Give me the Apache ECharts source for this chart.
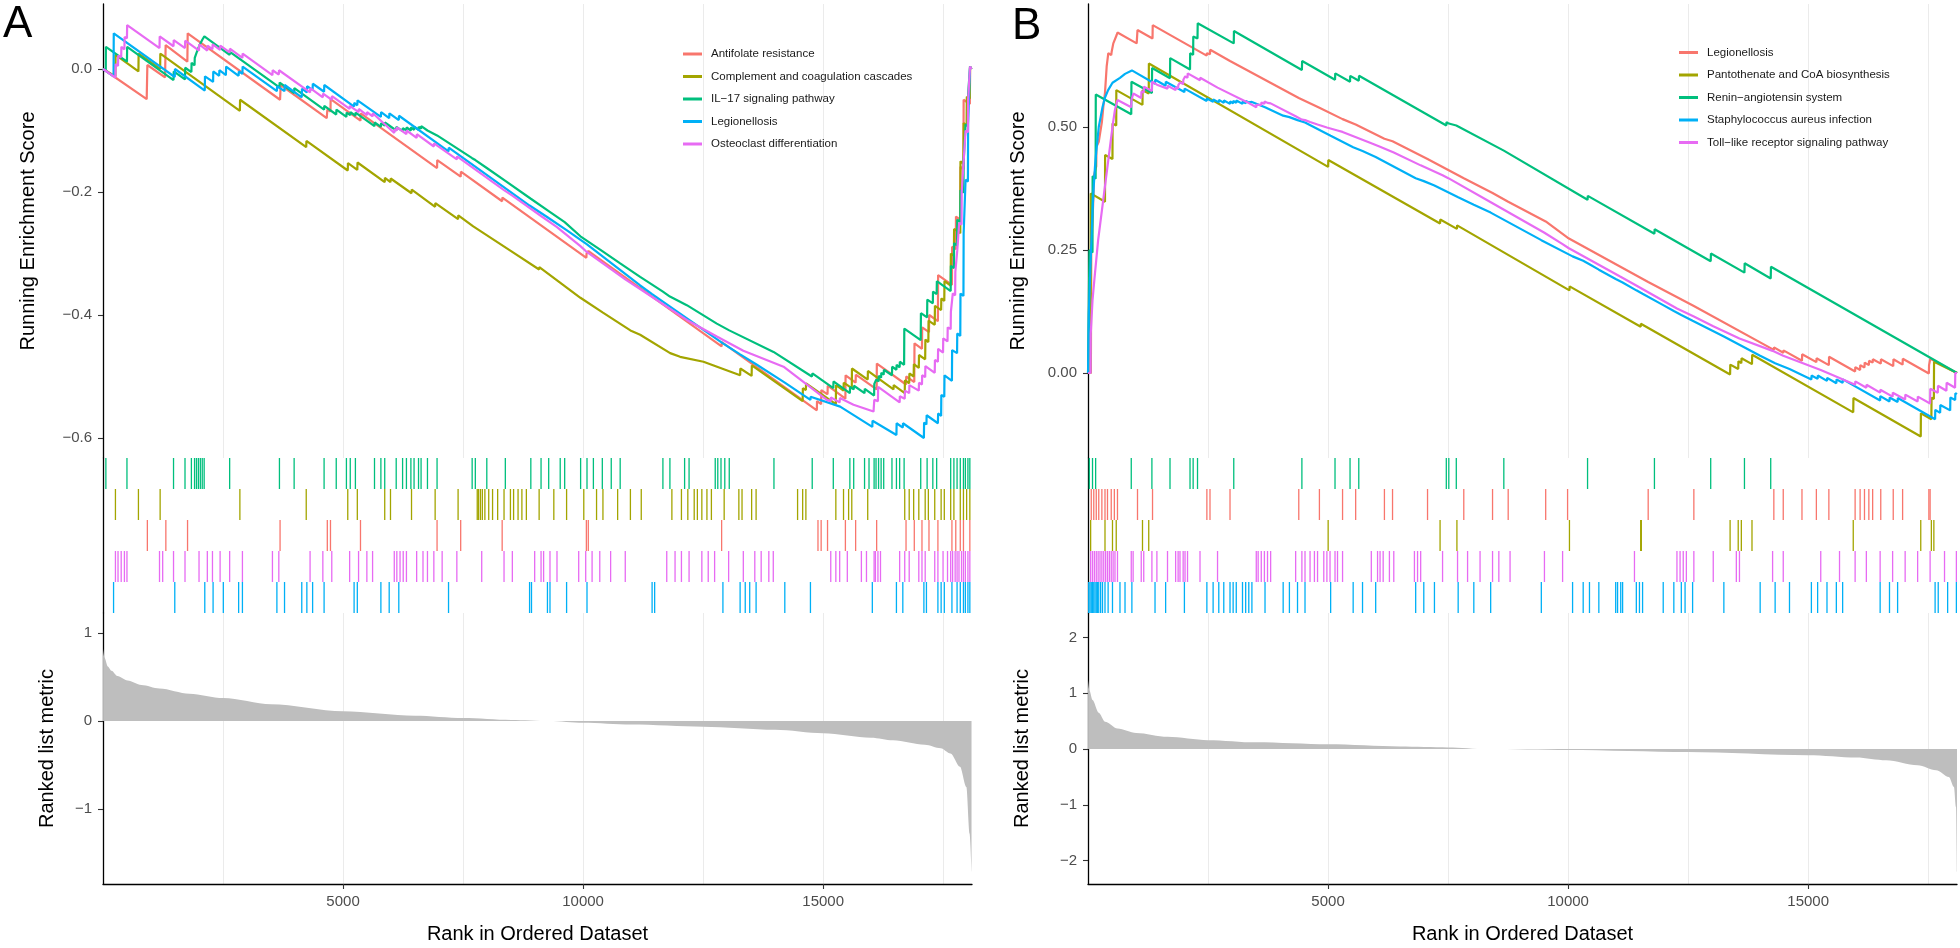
<!DOCTYPE html>
<html><head><meta charset="utf-8">
<script src="https://cdn.jsdelivr.net/npm/echarts@6/dist/echarts.min.js"></script>
<style>html,body{margin:0;padding:0;background:#fff}#c{width:1960px;height:948px}</style>
</head><body><div id="c"></div>
<script>
// ---------------- DATA ----------------
const N = 18100;
const colors = ['#F8766D', '#A3A500', '#00BF7D', '#00B0F6', '#E76BF3'];
const namesA = ['Antifolate resistance', 'Complement and coagulation cascades', 'IL\u221217 signaling pathway', 'Legionellosis', 'Osteoclast differentiation'];
const namesB = ['Legionellosis', 'Pantothenate and CoA biosynthesis', 'Renin\u2212angiotensin system', 'Staphylococcus aureus infection', 'Toll\u2212like receptor signaling pathway'];
const xTickLabels = [5000, 10000, 15000];
const xGridBreaks = [2500, 5000, 7500, 10000, 12500, 15000, 17500];
const yTicksEsA = [-0.6, -0.4, -0.2, 0];
const yTicksEsB = [0, 0.25, 0.5];
const yTicksMetricA = [-1, 0, 1];
const yTicksMetricB = [-2, -1, 0, 1, 2];
// rug row order (index into gene sets), top to bottom
const rugOrderA = [2, 1, 0, 4, 3];
const rugOrderB = [2, 0, 1, 4, 3];

// Panel A running enrichment scores [rank, ES]
const esA_Antifolate = [[1,0],[910,-0.049],[924,0.0065],[1292,-0.0136],[1305,0.039],[1757,0.012],[1764,0.058],[3688,-0.050],[3701,-0.026],[4660,-0.080],[4673,-0.066],[4738,-0.069],[4742,-0.049],[5363,-0.084],[5367,-0.072],[6958,-0.161],[6962,-0.148],[7450,-0.175],[7454,-0.167],[8314,-0.215],[8318,-0.209],[10068,-0.307],[10072,-0.300],[10108,-0.302],[10112,-0.296],[12885,-0.451],[12889,-0.444],[14868,-0.555],[14872,-0.540],[14958,-0.545],[14962,-0.522],[15091,-0.529],[15095,-0.515],[15463,-0.536],[15467,-0.498],[15676,-0.510],[15680,-0.497],[16114,-0.521],[16118,-0.479],[16726,-0.513],[16730,-0.500],[16898,-0.509],[16902,-0.446],[17058,-0.455],[17062,-0.420],[17204,-0.428],[17208,-0.400],[17390,-0.410],[17394,-0.335],[17682,-0.351],[17686,-0.289],[17762,-0.293],[17766,-0.240],[17856,-0.245],[17860,-0.159],[17922,-0.163],[17926,-0.050],[18055,-0.057],[18060,0.004],[18090,0]];
const esA_Complement = [[1,0],[259,-0.012],[262,0.023],[738,-0.004],[742,0.025],[1190,0.0],[1194,0.025],[2851,-0.068],[2855,-0.050],[4233,-0.127],[4237,-0.117],[5098,-0.165],[5102,-0.153],[5297,-0.164],[5301,-0.152],[5868,-0.184],[5872,-0.177],[5988,-0.184],[5992,-0.178],[6426,-0.202],[6430,-0.196],[6918,-0.224],[6922,-0.218],[7396,-0.244],[7400,-0.238],[7712,-0.256],[8500,-0.296],[9084,-0.326],[9088,-0.322],[9944,-0.372],[10413,-0.396],[10985,-0.425],[11188,-0.432],[11813,-0.462],[12020,-0.468],[12507,-0.476],[13271,-0.498],[13275,-0.487],[13510,-0.499],[13514,-0.482],[14573,-0.540],[14577,-0.519],[14640,-0.522],[14644,-0.511],[15264,-0.545],[15268,-0.514],[15424,-0.523],[15428,-0.510],[15596,-0.519],[15600,-0.487],[15928,-0.505],[15932,-0.491],[16465,-0.521],[16469,-0.514],[16699,-0.527],[16703,-0.506],[16792,-0.511],[16796,-0.495],[16885,-0.500],[16889,-0.480],[16992,-0.486],[16996,-0.465],[17125,-0.472],[17129,-0.440],[17191,-0.444],[17195,-0.409],[17324,-0.416],[17328,-0.385],[17457,-0.392],[17461,-0.373],[17523,-0.377],[17527,-0.345],[17656,-0.352],[17660,-0.300],[17723,-0.304],[17727,-0.260],[17856,-0.267],[17860,-0.150],[17922,-0.154],[17926,-0.088],[17988,-0.092],[17992,-0.045],[18055,-0.048],[18059,0.004],[18090,0]];
const esA_IL17 = [[1,0],[58,-0.003],[60,0.036],[499,0.012],[503,0.036],[1469,-0.018],[1473,-0.004],[1708,-0.017],[1712,0.002],[1841,-0.005],[1845,0.010],[1907,0.006],[1911,0.018],[1947,0.016],[1951,0.027],[1987,0.025],[1991,0.035],[2027,0.033],[2031,0.042],[2067,0.040],[2071,0.048],[2107,0.046],[2111,0.053],[2638,0.023],[2642,0.028],[3675,-0.030],[3679,-0.022],[3981,-0.039],[3985,-0.031],[4605,-0.066],[4609,-0.060],[4858,-0.074],[4862,-0.066],[5070,-0.078],[5074,-0.071],[5150,-0.075],[5154,-0.070],[5257,-0.076],[5261,-0.071],[5655,-0.093],[5659,-0.087],[5788,-0.094],[5792,-0.088],[5868,-0.092],[5872,-0.087],[6107,-0.100],[6111,-0.094],[6240,-0.101],[6244,-0.096],[6320,-0.100],[6324,-0.095],[6413,-0.100],[6417,-0.095],[6479,-0.099],[6483,-0.094],[6572,-0.099],[6576,-0.094],[6625,-0.097],[6629,-0.093],[6758,-0.100],[6762,-0.097],[6958,-0.108],[6962,-0.105],[7689,-0.145],[7755,-0.148],[7994,-0.161],[8380,-0.182],[8911,-0.211],[9283,-0.231],[9616,-0.249],[9944,-0.272],[10400,-0.296],[10772,-0.316],[11188,-0.338],[11662,-0.362],[11808,-0.370],[12160,-0.384],[12785,-0.414],[13044,-0.425],[13966,-0.460],[14764,-0.500],[14772,-0.500],[14776,-0.495],[15211,-0.519],[15215,-0.508],[15556,-0.527],[15560,-0.517],[15636,-0.521],[15640,-0.515],[15862,-0.527],[15866,-0.520],[16061,-0.531],[16065,-0.512],[16101,-0.514],[16105,-0.505],[16154,-0.508],[16158,-0.499],[16207,-0.502],[16211,-0.494],[16261,-0.497],[16265,-0.489],[16433,-0.498],[16437,-0.484],[16526,-0.489],[16530,-0.481],[16593,-0.485],[16597,-0.476],[16686,-0.481],[16690,-0.422],[17032,-0.441],[17036,-0.397],[17165,-0.404],[17169,-0.375],[17284,-0.381],[17288,-0.362],[17364,-0.366],[17368,-0.345],[17656,-0.361],[17660,-0.320],[17723,-0.324],[17727,-0.283],[17789,-0.287],[17793,-0.245],[17856,-0.249],[17860,-0.197],[17922,-0.201],[17926,-0.150],[17962,-0.152],[17966,-0.090],[18015,-0.093],[18019,-0.040],[18055,-0.042],[18059,0.002],[18090,0]];
const esA_Legionellosis = [[1,0],[220,-0.012],[224,0.058],[1495,-0.013],[1499,0.000],[2120,-0.035],[2124,-0.012],[2293,-0.021],[2297,-0.004],[2420,-0.011],[2424,-0.002],[2560,-0.010],[2564,0.004],[2825,-0.011],[2829,-0.004],[2904,-0.008],[2908,0.004],[3622,-0.036],[3626,-0.028],[3781,-0.036],[3785,-0.026],[4140,-0.046],[4144,-0.032],[4246,-0.038],[4250,-0.028],[4366,-0.034],[4370,-0.024],[4605,-0.037],[4609,-0.026],[5230,-0.061],[5234,-0.055],[5297,-0.059],[5301,-0.051],[5788,-0.078],[5792,-0.070],[5961,-0.080],[5965,-0.072],[6161,-0.083],[6165,-0.076],[7197,-0.134],[7201,-0.128],[8885,-0.222],[8925,-0.223],[9257,-0.241],[9656,-0.262],[10081,-0.285],[11188,-0.352],[11437,-0.366],[12912,-0.446],[13270,-0.464],[13603,-0.480],[14201,-0.510],[14735,-0.538],[14739,-0.533],[15354,-0.549],[16024,-0.582],[16028,-0.572],[16526,-0.595],[16530,-0.576],[16659,-0.583],[16663,-0.576],[17098,-0.600],[17102,-0.575],[17151,-0.578],[17155,-0.563],[17390,-0.576],[17394,-0.560],[17457,-0.564],[17461,-0.530],[17523,-0.533],[17527,-0.498],[17682,-0.507],[17686,-0.457],[17789,-0.462],[17793,-0.430],[17856,-0.434],[17860,-0.365],[17922,-0.369],[17926,-0.267],[17962,-0.269],[17966,-0.180],[18015,-0.183],[18019,-0.090],[18055,-0.092],[18059,0.004],[18090,0]];
const esA_Osteoclast = [[1,0],[259,-0.014],[263,0.008],[313,0.005],[317,0.022],[379,0.019],[383,0.036],[446,0.032],[450,0.052],[499,0.050],[503,0.0715],[1177,0.034],[1181,0.053],[1469,0.037],[1473,0.047],[1708,0.034],[1712,0.046],[2000,0.030],[2004,0.040],[2173,0.030],[2177,0.038],[2280,0.032],[2284,0.040],[2439,0.031],[2443,0.038],[2638,0.027],[2642,0.033],[2904,0.018],[2908,0.025],[3529,-0.010],[3533,-0.002],[3662,-0.009],[3666,-0.002],[4313,-0.038],[4317,-0.031],[4579,-0.046],[4583,-0.040],[4765,-0.050],[4769,-0.044],[5137,-0.065],[5141,-0.060],[5323,-0.070],[5327,-0.065],[5496,-0.075],[5500,-0.070],[5615,-0.077],[5619,-0.072],[6067,-0.104],[6071,-0.098],[6120,-0.100],[6124,-0.095],[6320,-0.106],[6324,-0.100],[6533,-0.112],[6537,-0.106],[6891,-0.126],[6895,-0.121],[7370,-0.147],[7374,-0.142],[8353,-0.197],[8526,-0.206],[9124,-0.239],[9456,-0.257],[9944,-0.288],[10054,-0.296],[10573,-0.325],[10878,-0.342],[11188,-0.358],[12160,-0.408],[12785,-0.435],[13337,-0.458],[14174,-0.484],[15077,-0.538],[15158,-0.540],[15162,-0.534],[15344,-0.542],[15348,-0.535],[15632,-0.546],[16049,-0.557],[16061,-0.557],[16065,-0.538],[16141,-0.540],[16145,-0.517],[16593,-0.542],[16597,-0.532],[16699,-0.536],[16703,-0.523],[16792,-0.527],[16796,-0.514],[16992,-0.523],[16996,-0.510],[17058,-0.513],[17062,-0.498],[17125,-0.501],[17129,-0.483],[17324,-0.494],[17328,-0.473],[17390,-0.476],[17394,-0.455],[17497,-0.461],[17501,-0.438],[17590,-0.443],[17594,-0.420],[17656,-0.423],[17660,-0.395],[17696,-0.397],[17700,-0.365],[17749,-0.368],[17753,-0.330],[17789,-0.332],[17793,-0.295],[17829,-0.297],[17833,-0.250],[17882,-0.253],[17886,-0.200],[17922,-0.202],[17926,-0.150],[17962,-0.152],[17966,-0.100],[18015,-0.103],[18019,-0.050],[18055,-0.052],[18059,0.004],[18090,0]];

// Panel B running enrichment scores [rank, ES]
const esB_Legionellosis = [[1,0],[60,0.0],[68,0.25],[111,0.352],[115,0.36],[120,0.40],[172,0.42],[176,0.46],[224,0.47],[250,0.474],[289,0.51],[319,0.541],[354,0.57],[389,0.623],[423,0.650],[484,0.646],[493,0.653],[527,0.670],[597,0.687],[614,0.692],[1014,0.670],[1031,0.697],[1344,0.680],[1348,0.707],[2472,0.645],[2476,0.650],[2541,0.648],[2545,0.657],[2958,0.634],[2962,0.638],[4390,0.559],[4394,0.563],[4820,0.539],[4824,0.543],[5302,0.516],[5306,0.520],[5575,0.505],[5579,0.509],[6174,0.476],[6178,0.480],[6343,0.471],[6347,0.475],[7072,0.435],[7076,0.438],[7827,0.396],[7831,0.399],[8426,0.366],[8752,0.348],[8756,0.351],[9533,0.308],[9989,0.275],[9993,0.278],[11668,0.185],[11672,0.188],[12619,0.136],[12623,0.139],[14285,0.047],[14289,0.052],[14481,0.041],[14485,0.046],[14871,0.025],[14875,0.038],[15171,0.022],[15175,0.030],[15431,0.016],[15435,0.033],[15978,0.003],[15982,0.012],[16082,0.006],[16086,0.016],[16173,0.011],[16177,0.021],[16264,0.016],[16268,0.025],[16343,0.021],[16347,0.028],[16512,0.019],[16516,0.028],[16772,0.014],[16776,0.028],[16967,0.017],[16971,0.029],[17514,-0.001],[17518,0.016],[17540,0.015],[17544,0.029],[18100,0]];
const esB_Pantothenate = [[1,0],[55,0.0],[57,0.365],[354,0.348],[356,0.443],[510,0.435],[512,0.507],[588,0.503],[590,0.575],[1135,0.545],[1137,0.575],[1265,0.568],[1268,0.629],[5002,0.419],[5006,0.433],[7333,0.304],[7337,0.312],[7684,0.293],[7688,0.300],[10028,0.168],[10032,0.176],[11512,0.094],[11515,0.100],[11525,0.099],[11528,0.104],[13374,-0.003],[13378,0.017],[13543,0.008],[13547,0.024],[13608,0.020],[13612,0.030],[13830,0.018],[13834,0.037],[15939,-0.080],[15943,-0.051],[17345,-0.129],[17348,-0.082],[17566,-0.094],[17570,-0.050],[17618,-0.053],[17622,0.023],[18100,0]];
const esB_Renin = [[1,0],[28,0.0],[30,0.25],[94,0.245],[96,0.40],[159,0.395],[162,0.566],[901,0.526],[905,0.592],[1331,0.569],[1335,0.620],[1708,0.599],[1712,0.640],[2125,0.617],[2128,0.650],[2190,0.647],[2193,0.684],[2281,0.680],[2285,0.711],[3036,0.670],[3040,0.695],[4455,0.616],[4460,0.634],[5145,0.596],[5150,0.609],[5458,0.592],[5462,0.604],[5640,0.594],[5645,0.604],[7463,0.503],[7467,0.510],[7515,0.507],[7520,0.511],[7671,0.503],[7675,0.507],[8661,0.452],[8665,0.455],[10405,0.352],[10410,0.360],[11798,0.283],[11802,0.292],[12970,0.227],[12975,0.243],[13673,0.204],[13677,0.223],[14220,0.192],[14225,0.216],[18100,0]];
const esB_Staph = [[1,0],[15,0.0],[17,0.12],[42,0.19],[68,0.26],[94,0.33],[120,0.38],[146,0.42],[172,0.45],[198,0.475],[224,0.50],[263,0.52],[302,0.54],[354,0.56],[419,0.575],[510,0.59],[666,0.60],[771,0.608],[914,0.615],[1396,0.588],[1400,0.596],[1617,0.584],[1620,0.592],[2008,0.571],[2012,0.578],[2472,0.553],[2476,0.558],[2606,0.551],[2610,0.556],[2724,0.550],[2728,0.555],[2828,0.549],[2832,0.554],[2958,0.547],[2962,0.552],[3023,0.548],[3027,0.553],[3088,0.549],[3092,0.554],[3218,0.547],[3222,0.552],[3284,0.548],[3288,0.553],[3349,0.550],[3353,0.554],[3414,0.551],[3418,0.555],[3687,0.540],[3691,0.544],[4065,0.523],[4069,0.527],[4195,0.520],[4199,0.523],[4364,0.514],[4368,0.517],[4520,0.509],[4524,0.512],[5054,0.482],[5058,0.485],[5523,0.459],[5527,0.462],[5718,0.451],[5722,0.454],[5992,0.439],[5996,0.442],[6825,0.396],[6829,0.399],[6994,0.390],[6998,0.393],[7216,0.381],[7220,0.384],[7710,0.357],[7714,0.360],[8036,0.342],[8040,0.345],[8387,0.326],[8391,0.329],[9442,0.270],[9446,0.273],[10093,0.237],[10097,0.240],[10314,0.228],[10445,0.221],[10640,0.210],[10991,0.191],[11135,0.184],[11421,0.168],[11551,0.161],[11981,0.138],[12202,0.126],[12358,0.118],[12593,0.106],[13244,0.074],[14000,0.035],[14312,0.020],[14316,0.024],[14611,0.008],[14615,0.012],[15067,-0.013],[15071,-0.005],[15197,-0.012],[15201,-0.005],[15392,-0.016],[15396,-0.010],[15587,-0.021],[15591,-0.013],[15718,-0.020],[15722,-0.013],[16499,-0.056],[16503,-0.047],[16694,-0.058],[16698,-0.050],[16863,-0.059],[16867,-0.051],[17644,-0.094],[17648,-0.075],[17749,-0.081],[17753,-0.065],[17958,-0.076],[17962,-0.050],[18062,-0.055],[18066,-0.041],[18100,-0.043]];
const esB_Toll = [[1,0],[55,0.0],[57,0.08],[94,0.148],[133,0.19],[172,0.23],[211,0.27],[250,0.30],[289,0.33],[328,0.36],[367,0.39],[406,0.42],[445,0.45],[484,0.48],[523,0.51],[562,0.535],[614,0.555],[901,0.540],[905,0.555],[940,0.553],[944,0.568],[1109,0.559],[1113,0.572],[1161,0.570],[1165,0.582],[1331,0.573],[1335,0.592],[1435,0.586],[1439,0.590],[1656,0.578],[1660,0.584],[1825,0.575],[1829,0.581],[1877,0.578],[1881,0.585],[1916,0.583],[1920,0.591],[1982,0.587],[1986,0.596],[2021,0.594],[2025,0.603],[2073,0.600],[2077,0.609],[2333,0.595],[2337,0.600],[2698,0.580],[2702,0.584],[3305,0.551],[3505,0.540],[3509,0.545],[3544,0.543],[3548,0.548],[3609,0.545],[3613,0.550],[3674,0.547],[3678,0.552],[3739,0.549],[3743,0.552],[3804,0.548],[3808,0.551],[4325,0.522],[4455,0.515],[4520,0.514],[4625,0.510],[4781,0.505],[4976,0.499],[5197,0.493],[5302,0.490],[5875,0.468],[6083,0.460],[6369,0.448],[6929,0.422],[7385,0.402],[7505,0.396],[8426,0.345],[9507,0.285],[9885,0.262],[10007,0.254],[11083,0.196],[11382,0.180],[12267,0.131],[12619,0.115],[13023,0.095],[13569,0.070],[14259,0.045],[14481,0.035],[15262,0.006],[15653,-0.010],[15978,-0.024],[15982,-0.017],[16212,-0.030],[16216,-0.024],[16499,-0.040],[16503,-0.034],[16759,-0.048],[16763,-0.040],[17020,-0.054],[17024,-0.044],[17280,-0.058],[17284,-0.048],[17540,-0.062],[17544,-0.032],[17700,-0.040],[17704,-0.026],[17880,-0.036],[17884,-0.020],[18060,-0.030],[18064,0.0],[18100,0]];

// Hit positions (ranks) for the rug plots
const hitsA_Antifolate = [924,1309,1761,3688,4672,4738,5363,6958,7450,8314,10068,10108,12885,14892,14958,15091,15463,15676,16114,16726,16898,17058,17204,17390,17682,17762,17856,17922,18055];
const hitsA_Complement = [259,738,1190,2851,4233,5098,5297,5868,5988,6426,6918,7396,7795,7822,7861,7901,7954,8034,8114,8220,8353,8486,8552,8645,8725,8818,9084,9390,9656,10014,10280,10413,10719,10985,11211,11849,12048,12181,12314,12380,12473,12579,12672,12938,13244,13310,13510,13603,14467,14573,14640,15264,15424,15530,15596,15928,16699,16792,16885,16992,17125,17191,17324,17457,17523,17656,17723,17856,17922,17988,18055];
const hitsA_IL17 = [60,499,1469,1708,1841,1907,1947,1987,2027,2067,2107,2638,3675,3981,4605,4858,5070,5150,5257,5655,5788,5868,6107,6240,6320,6413,6479,6572,6625,6758,6958,7689,7755,7994,8380,8911,9124,9283,9523,9616,9948,10081,10214,10400,10586,10772,11662,11808,12114,12207,12752,12805,12872,12951,13044,13975,14772,15211,15556,15636,15862,15955,16061,16101,16154,16207,16261,16433,16526,16593,16686,17032,17165,17284,17364,17656,17723,17789,17856,17922,17962,18015,18055];
const hitsA_Legionellosis = [220,1495,2120,2293,2506,2825,2904,3622,3781,4140,4246,4366,4605,5230,5297,5788,5961,6161,7197,8885,8925,9257,9310,9656,10081,11437,11490,12912,13270,13377,13470,13603,14201,14735,16024,16526,16659,17098,17151,17390,17457,17523,17682,17789,17856,17922,17962,18015,18055];
const hitsA_Osteoclast = [259,313,379,446,499,1177,1243,1469,1708,2000,2173,2280,2439,2638,2904,3529,3662,4313,4579,4765,5137,5323,5496,5615,6067,6120,6187,6253,6320,6533,6665,6758,6891,7064,7370,7888,8353,8526,8991,9124,9177,9310,9456,9908,10054,10187,10347,10573,10878,11742,11915,12048,12207,12473,12606,12739,13031,13337,13576,13709,13868,13961,15158,15264,15344,15503,15796,15902,16061,16088,16141,16194,16593,16699,16792,16992,17058,17125,17324,17390,17497,17590,17656,17696,17749,17789,17829,17882,17922,17962,18015,18055];
const hitsB_Legionellosis = [68,120,172,224,289,354,406,484,549,614,1031,1344,2476,2541,2958,4390,4820,5302,5575,6174,6343,7072,7827,8426,8752,9533,9989,11668,12619,14285,14481,14871,15171,15431,15978,16082,16173,16264,16343,16512,16772,16967,17514,17540];
const hitsB_Pantothenate = [55,354,510,588,1135,1265,5002,7333,7684,10028,11512,11525,13374,13543,13608,13830,15939,17345,17566,17618];
const hitsB_Renin = [28,94,159,901,1331,1708,2125,2190,2281,3036,4455,5145,5458,5640,7463,7515,7671,8661,10405,11798,12970,13673,14220];
const hitsB_Staph = [15,42,68,94,120,146,172,198,224,263,302,354,419,510,666,771,914,1396,1617,2008,2476,2606,2724,2828,2958,3023,3088,3218,3284,3349,3414,3687,4065,4195,4364,4520,5054,5523,5718,5992,6825,6994,7216,7710,8036,8387,9442,10093,10314,10445,10640,10991,11030,11096,11135,11421,11486,11551,11981,12202,12358,12436,12593,13244,14000,14312,14611,15067,15197,15392,15587,15718,16499,16694,16863,17644,17709,17905,18087];
const hitsB_Toll = [55,94,133,172,211,250,289,328,367,406,445,484,523,562,614,901,940,1109,1161,1331,1435,1656,1825,1877,1916,1982,2021,2073,2333,2698,3505,3544,3609,3674,3739,3804,4325,4455,4520,4625,4716,4781,4911,4976,5041,5145,5197,5302,5901,6031,6083,6148,6278,6369,6799,6864,6929,7385,7697,7906,8166,8426,8557,8791,9507,9885,11382,12267,12332,12398,12463,12619,13023,13504,13569,14259,14481,15262,15653,15978,16212,16499,16759,17020,17280,17540,17840,18087];

// Ranked list metric [rank, value]
const metricA = [[1,0.82],[30,0.72],[100,0.62],[179,0.57],[300,0.51],[512,0.46],[800,0.41],[1175,0.37],[1800,0.31],[2504,0.26],[3500,0.19],[5000,0.11],[6500,0.06],[7500,0.034],[8500,0.012],[9300,0.0],[10000,-0.02],[11000,-0.04],[12500,-0.065],[14000,-0.10],[15000,-0.14],[16000,-0.19],[16455,-0.22],[17119,-0.27],[17450,-0.31],[17652,-0.37],[17850,-0.52],[17983,-0.75],[18050,-1.28],[18090,-1.71]];
const metricB = [[1,1.24],[30,1.05],[94,0.88],[224,0.65],[354,0.49],[615,0.37],[1005,0.29],[1656,0.22],[2500,0.16],[3500,0.12],[5000,0.084],[6500,0.045],[7500,0.03],[8300,0.0],[10000,-0.018],[12500,-0.054],[15000,-0.11],[16000,-0.15],[16625,-0.2],[17281,-0.29],[17666,-0.38],[17932,-0.5],[18036,-0.68],[18080,-1.04],[18100,-2.2]];

// --------------- BUILD ---------------
const esA = [esA_Antifolate, esA_Complement, esA_IL17, esA_Legionellosis, esA_Osteoclast];
const esB = [esB_Legionellosis, esB_Pantothenate, esB_Renin, esB_Staph, esB_Toll];
const hitsA = [hitsA_Antifolate, hitsA_Complement, hitsA_IL17, hitsA_Legionellosis, hitsA_Osteoclast];
const hitsB = [hitsB_Legionellosis, hitsB_Pantothenate, hitsB_Renin, hitsB_Staph, hitsB_Toll];

const FONT = 'Liberation Sans, Arial, Helvetica, sans-serif';
const minus = s => s.replace('-', '\u2212');
const fmt = d => v => minus(Number(v).toFixed(d));

const panels = [
  {left: 103, es: esA, hits: hitsA, metric: metricA, names: namesA, rug: rugOrderA,
   esMin: -0.6325, esMax: 0.1057, esTicks: yTicksEsA, esDec: 1, esGap: 65,
   mMin: -1.852, mMax: 1.227, mTicks: yTicksMetricA, mGap: 46},
  {left: 1088, es: esB, hits: hitsB, metric: metricB, names: namesB, rug: rugOrderB,
   esMin: -0.1728, esMax: 0.750, esTicks: yTicksEsB, esDec: 2, esGap: 60,
   mMin: -2.42, mMax: 2.44, mTicks: yTicksMetricB, mGap: 56}
];

const grid = [], xAxis = [], yAxis = [], series = [];
const axisLineStyle = {color: '#000', width: 1.3};
const tickStyle = {color: '#333', width: 1.1};
const labelStyle = {color: '#4d4d4d', fontSize: 15, fontFamily: FONT};
const gridLine = {show: true, lineStyle: {color: '#ebebeb', width: 1}};

// hidden x axis that only draws the vertical grid lines at 2500-steps
function gridOnlyAxis(gi, pos) {
  return {
    type: 'value', gridIndex: gi, min: 0, max: N, position: pos,
    axisLine: {show: false}, axisLabel: {show: false},
    axisTick: {show: false, customValues: xGridBreaks},
    splitLine: gridLine
  };
}

panels.forEach((p, pi) => {
  const g0 = grid.length;
  grid.push({left: p.left, top: 4, width: 869, height: 454});
  grid.push({left: p.left, top: 458, width: 869, height: 155});
  grid.push({left: p.left, top: 613, width: 869, height: 271});
  const xi0 = xAxis.length;
  xAxis.push(gridOnlyAxis(g0, 'bottom'));
  xAxis.push({type: 'value', gridIndex: g0 + 1, min: 0, max: N, show: false, splitLine: {show: false}});
  xAxis.push({
    type: 'value', gridIndex: g0 + 2, min: 0, max: N, position: 'bottom',
    axisLine: {show: true, lineStyle: axisLineStyle, onZero: false},
    axisTick: {show: true, length: 5, lineStyle: tickStyle, customValues: xTickLabels},
    axisLabel: {show: true, margin: 10, ...labelStyle, customValues: xTickLabels, formatter: v => String(v)},
    splitLine: {show: false},
    name: 'Rank in Ordered Dataset', nameLocation: 'middle', nameGap: 40,
    nameTextStyle: {fontSize: 20, color: '#000', fontFamily: FONT}
  });
  xAxis.push(gridOnlyAxis(g0 + 2, 'top'));

  yAxis.push({
    type: 'value', gridIndex: g0, min: p.esMin, max: p.esMax,
    axisLine: {show: true, lineStyle: axisLineStyle, onZero: false},
    axisTick: {show: true, length: 5, lineStyle: tickStyle, customValues: p.esTicks},
    axisLabel: {margin: 11, ...labelStyle, customValues: p.esTicks, formatter: fmt(p.esDec)},
    splitLine: {show: false},
    name: 'Running Enrichment Score', nameLocation: 'middle', nameGap: p.esGap, nameRotate: 90,
    nameTextStyle: {fontSize: 20, color: '#000', fontFamily: FONT}
  });
  yAxis.push({
    type: 'value', gridIndex: g0 + 1, min: 0, max: 5, inverse: true,
    axisLine: {show: true, lineStyle: axisLineStyle, onZero: false},
    axisTick: {show: false}, axisLabel: {show: false}, splitLine: {show: false}
  });
  yAxis.push({
    type: 'value', gridIndex: g0 + 2, min: p.mMin, max: p.mMax,
    axisLine: {show: true, lineStyle: axisLineStyle, onZero: false},
    axisTick: {show: true, length: 5, lineStyle: tickStyle, customValues: p.mTicks},
    axisLabel: {margin: 11, ...labelStyle, customValues: p.mTicks, formatter: fmt(0)},
    splitLine: {show: false},
    name: 'Ranked list metric', nameLocation: 'middle', nameGap: p.mGap, nameRotate: 90,
    nameTextStyle: {fontSize: 20, color: '#000', fontFamily: FONT}
  });
  const yi0 = pi * 3;
  p.es.forEach((d, i) => {
    series.push({
      type: 'line', name: p.names[i], xAxisIndex: xi0, yAxisIndex: yi0,
      data: d, showSymbol: false, symbol: 'none', animation: false,
      lineStyle: {color: colors[i], width: 2.2}, z: 3 + i
    });
  });
  p.rug.forEach((setIdx, row) => {
    series.push({
      type: 'scatter', xAxisIndex: xi0 + 1, yAxisIndex: yi0 + 1, animation: false,
      symbol: 'rect', symbolSize: [1.3, 31],
      itemStyle: {color: colors[setIdx], opacity: 1},
      data: p.hits[setIdx].map(r => [r, row + 0.5]),
      silent: true
    });
  });
  series.push({
    type: 'line', xAxisIndex: xi0 + 2, yAxisIndex: yi0 + 2, data: p.metric,
    showSymbol: false, symbol: 'none', smooth: 0.3, smoothMonotone: 'x', animation: false,
    lineStyle: {width: 0, color: '#bebebe'},
    areaStyle: {color: '#bebebe', opacity: 1, origin: 0}
  });
});

// legends + panel letters drawn as graphic elements on top of everything
const graphic = [];
const legendPos = [{x: 683, y: 54}, {x: 1679, y: 52.5}];
panels.forEach((p, pi) => {
  p.names.forEach((nm, i) => {
    const y = legendPos[pi].y + 22.5 * i;
    graphic.push({type: 'line', z: 100, shape: {x1: legendPos[pi].x, y1: y, x2: legendPos[pi].x + 19, y2: y},
      style: {stroke: colors[i], lineWidth: 3}, silent: true});
    graphic.push({type: 'text', z: 100, x: legendPos[pi].x + 28, y: y,
      style: {text: nm, fill: '#1a1a1a', fontSize: 11.5, fontFamily: FONT, verticalAlign: 'middle', align: 'left'}, silent: true});
  });
});
graphic.push({type: 'text', z: 100, x: 3, y: 25, style: {text: 'A', fill: '#000', fontSize: 44, fontFamily: FONT, verticalAlign: 'middle'}});
graphic.push({type: 'text', z: 100, x: 1012, y: 27, style: {text: 'B', fill: '#000', fontSize: 44, fontFamily: FONT, verticalAlign: 'middle'}});

const chart = echarts.init(document.getElementById('c'), null, {renderer: 'canvas'});
chart.setOption({
  animation: false,
  backgroundColor: '#fff',
  textStyle: {fontFamily: FONT},
  grid, xAxis, yAxis, series, graphic
});
</script></body></html>
